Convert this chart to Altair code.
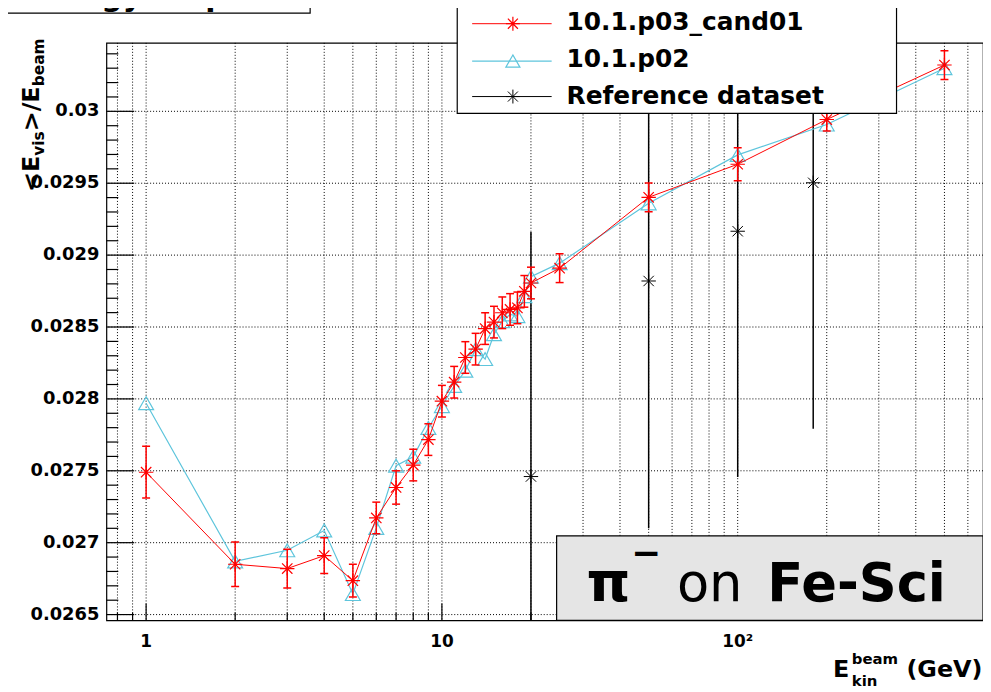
import altair as alt
import pandas as pd

# ---------------- data ----------------
energy = [1, 2, 3, 4, 5, 6, 7, 8, 9, 10, 11, 12, 13, 14, 15, 16, 17, 18, 19, 20,
          25, 50, 100, 200, 500]
resp_cand01 = [0.02749, 0.02685, 0.02682, 0.02691, 0.026736, 0.027172, 0.027384,
               0.02754, 0.027717, 0.027984, 0.028116, 0.028288, 0.028346, 0.028489,
               0.028534, 0.028599, 0.028622, 0.028633, 0.028748, 0.028806, 0.028909,
               0.029402, 0.029632, 0.029943, 0.030322]
err_cand01 = [0.00018, 0.000155, 0.000135, 0.000124, 0.000114, 0.00011, 0.000116,
              0.00011, 0.00011, 0.00011, 0.00011, 0.00011, 0.00011, 0.00011, 0.00011,
              0.00011, 0.00011, 0.00011, 0.00011, 0.00011, 0.0001, 0.0001, 0.000115,
              0.00008, 0.0001]
resp_p02 = [0.02797, 0.02687, 0.026947, 0.027085, 0.026643, 0.027103, 0.027536,
            0.027598, 0.027798, 0.02795, 0.02809, 0.028196, 0.028346, 0.028277,
            0.02845, 0.02854, 0.028587, 0.028576, 0.028714, 0.02885, 0.028944,
            0.02936, 0.029697, 0.029908, 0.0303]
energy_ref = [20, 50, 100, 180]
resp_ref = [0.02746, 0.02882, 0.029166, 0.029503]
err_ref = [0.0017, 0.00172, 0.00171, 0.00171]

x_major = [1, 10, 100]
x_major_labels = ["1", "10", "10²"]
x_minor = [0.8, 0.9, 2, 3, 4, 5, 6, 7, 8, 9, 20, 30, 40, 50, 60, 70, 80, 90,
           200, 300, 400, 500, 600]
y_major = [0.0265, 0.027, 0.0275, 0.028, 0.0285, 0.029, 0.0295, 0.03]
y_major_labels = ["0.0265", "0.027", "0.0275", "0.028", "0.0285", "0.029",
                  "0.0295", "0.03"]
y_minor = [0.0266, 0.0267, 0.0268, 0.0269, 0.0271, 0.0272, 0.0273, 0.0274,
           0.0276, 0.0277, 0.0278, 0.0279, 0.0281, 0.0282, 0.0283, 0.0284,
           0.0286, 0.0287, 0.0288, 0.0289, 0.0291, 0.0292, 0.0293, 0.0294,
           0.0296, 0.0297, 0.0298, 0.0299, 0.0301, 0.0302, 0.0303, 0.0304]

legend_labels = ["10.1.p03_cand01", "10.1.p02", "Reference dataset"]

# ---------------- layout constants ----------------
W, H = 882, 581
OX, OY = 107, 41          # page position of plot origin
RED = "#ff0000"
CYAN = "#5ec5dc"
FONT = "DejaVu Sans"
STAR = "M0,-1L0,1M-1,0L1,0M-0.72,-0.72L0.72,0.72M-0.72,0.72L0.72,-0.72"

xs = alt.Scale(type="log", domain=[0.734, 675], nice=False)
ys = alt.Scale(domain=[0.02646, 0.030476], nice=False, zero=False)

new = pd.DataFrame({"E": energy, "R": resp_cand01,
                    "lo": [r - e for r, e in zip(resp_cand01, err_cand01)],
                    "hi": [r + e for r, e in zip(resp_cand01, err_cand01)]})
old = pd.DataFrame({"E": energy, "R": resp_p02})
ref = pd.DataFrame({"E": energy_ref, "R": resp_ref,
                    "lo": [r - e for r, e in zip(resp_ref, err_ref)],
                    "hi": [r + e for r, e in zip(resp_ref, err_ref)]})


def X(field="E"):
    return alt.X(f"{field}:Q", scale=xs, axis=None)


def Y(field="R"):
    return alt.Y(f"{field}:Q", scale=ys, axis=None)


def txt(text, px, py, size, weight="bold", angle=0, align="left",
        baseline="alphabetic", color="black"):
    return alt.Chart(pd.DataFrame({"t": [text]})).mark_text(
        text=text, font=FONT, fontSize=size, fontWeight=weight, angle=angle,
        align=align, baseline=baseline, color=color
    ).encode(x=alt.value(px - OX), y=alt.value(py - OY))


def box(x1, y1, x2, y2, fill, stroke="black", sw=1.2):
    return alt.Chart(pd.DataFrame({"a": [0]})).mark_rect(
        fill=fill, stroke=stroke, strokeWidth=sw
    ).encode(x=alt.value(x1 - OX), x2=alt.value(x2 - OX),
             y=alt.value(y1 - OY), y2=alt.value(y2 - OY))


def seg(x1, y1, x2, y2, color, sw=1.0):
    return alt.Chart(pd.DataFrame({"a": [0]})).mark_rule(
        color=color, strokeWidth=sw
    ).encode(x=alt.value(x1 - OX), x2=alt.value(x2 - OX),
             y=alt.value(y1 - OY), y2=alt.value(y2 - OY))


def sym(px, py, shape, size, color, sw=1.0):
    return alt.Chart(pd.DataFrame({"a": [0]})).mark_point(
        shape=shape, size=size, filled=False, color=color, strokeWidth=sw, opacity=1
    ).encode(x=alt.value(px - OX), y=alt.value(py - OY))


layers = []

# grid
layers.append(alt.Chart(pd.DataFrame({"v": x_major + x_minor})).mark_rule(
    color="black", strokeDash=[1, 2], strokeWidth=1).encode(x=X("v")))
layers.append(alt.Chart(pd.DataFrame({"v": y_major})).mark_rule(
    color="black", strokeDash=[1, 2], strokeWidth=1).encode(y=Y("v")))

# inner ticks
layers.append(alt.Chart(pd.DataFrame({"v": x_major})).mark_rule(
    color="black", strokeWidth=1.2).encode(x=X("v"), y=alt.value(H), y2=alt.value(H - 17)))
layers.append(alt.Chart(pd.DataFrame({"v": x_minor})).mark_rule(
    color="black", strokeWidth=1.2).encode(x=X("v"), y=alt.value(H), y2=alt.value(H - 8)))
layers.append(alt.Chart(pd.DataFrame({"v": y_major})).mark_rule(
    color="black", strokeWidth=1.2).encode(y=Y("v"), x=alt.value(0), x2=alt.value(28)))
layers.append(alt.Chart(pd.DataFrame({"v": y_minor})).mark_rule(
    color="black", strokeWidth=1.2).encode(y=Y("v"), x=alt.value(0), x2=alt.value(12)))

# tick labels, placed through the scales
layers.append(alt.Chart(pd.DataFrame({"v": x_major, "t": x_major_labels})).mark_text(
    font=FONT, fontSize=17, fontWeight="bold", color="black", align="center",
    baseline="middle").encode(x=X("v"), y=alt.value(644 - OY), text="t:N"))
layers.append(alt.Chart(pd.DataFrame({"v": y_major, "t": y_major_labels})).mark_text(
    font=FONT, fontSize=18, fontWeight="bold", color="black", align="right",
    baseline="middle").encode(y=Y("v"), x=alt.value(-7), text="t:N"))

# reference dataset error bars (clipped)
layers.append(alt.Chart(ref).mark_rule(color="black", strokeWidth=1.5, clip=True).encode(
    x=X(), y=Y("lo"), y2=alt.Y2("hi")))

# 10.1.p02 (cyan)
layers.append(alt.Chart(old).mark_line(color=CYAN, strokeWidth=1.2, clip=True).encode(
    x=X(), y=Y()))
layers.append(alt.Chart(old).mark_point(shape="triangle-up", size=225, filled=False,
                                         color=CYAN, strokeWidth=1.2, opacity=1,
                                         clip=True).encode(x=X(), y=Y()))

# 10.1.p03_cand01 (red)
layers.append(alt.Chart(new).mark_line(color=RED, strokeWidth=1.0, clip=True).encode(
    x=X(), y=Y()))
layers.append(alt.Chart(new).mark_rule(color=RED, strokeWidth=1.5, clip=True).encode(
    x=X(), y=Y("lo"), y2=alt.Y2("hi")))
layers.append(alt.Chart(new).mark_tick(orient="horizontal", size=8, thickness=1.5,
                                        color=RED, opacity=1, clip=True).encode(
    x=X(), y=Y("lo")))
layers.append(alt.Chart(new).mark_tick(orient="horizontal", size=8, thickness=1.5,
                                        color=RED, opacity=1, clip=True).encode(
    x=X(), y=Y("hi")))
layers.append(alt.Chart(new).mark_point(shape=STAR, size=210, filled=False, color=RED,
                                         strokeWidth=1.2, opacity=1, clip=True).encode(
    x=X(), y=Y()))

# reference markers
layers.append(alt.Chart(ref).mark_point(shape=STAR, size=210, filled=False,
                                         color="black", strokeWidth=1.0, opacity=1,
                                         clip=True).encode(x=X(), y=Y()))

# text box  "pi- on Fe-Sci"
layers.append(box(560, 537, 989, 622, "#e5e5e5"))
layers.append(txt("π", 590, 603, 56))
layers.append(txt("−", 635, 566, 36))
layers.append(txt("on", 681, 603, 53, weight="normal"))
layers.append(txt("Fe-Sci", 772, 603, 53))

# legend
layers.append(box(460, 3, 902, 112, "white"))
leg_y = [21.7, 59.3, 95]
leg_base = [28, 65, 102]
layers.append(seg(475, leg_y[0], 555, leg_y[0], RED))
layers.append(sym(516, leg_y[0], STAR, 196, RED, 1.2))
layers.append(seg(475, leg_y[1], 555, leg_y[1], CYAN, 1.2))
layers.append(sym(516, leg_y[1], "triangle-up", 200, CYAN, 1.2))
layers.append(seg(475, leg_y[2], 555, leg_y[2], "black"))
layers.append(sym(516, leg_y[2], STAR, 196, "black"))
for lab, b in zip(legend_labels, leg_base):
    layers.append(txt(lab, 570, b, 25))

# title box (cut off at the top of the page)
layers.append(box(7, -40, 312, 11, "white"))
layers.append(txt("Energy response", 25, 4, 30))

# y-axis title  <E_vis>/E_beam  (rotated)
layers.append(txt("<E", 39, 191, 24, angle=270))
layers.append(txt("vis", 44, 154.5, 15.5, angle=270))
layers.append(txt(">/E", 39, 130, 24, angle=270))
layers.append(txt("beam", 44, 84.7, 15.5, angle=270))

# x-axis title  E_kin^beam (GeV)
layers.append(txt("E", 838, 679, 24))
layers.append(txt("beam", 857, 666, 15))
layers.append(txt("kin", 857, 688, 15))
layers.append(txt("(GeV)", 912, 679, 24))

chart = alt.layer(*layers).properties(
    width=W, height=H,
    padding={"left": 99, "top": 33, "right": 0, "bottom": 68},
    autosize=alt.AutoSizeParams(type="none"),
    background="white",
).configure_view(stroke="black", strokeWidth=1.2)

chart.save("out.html", embed_options={"renderer": "svg", "actions": False})
